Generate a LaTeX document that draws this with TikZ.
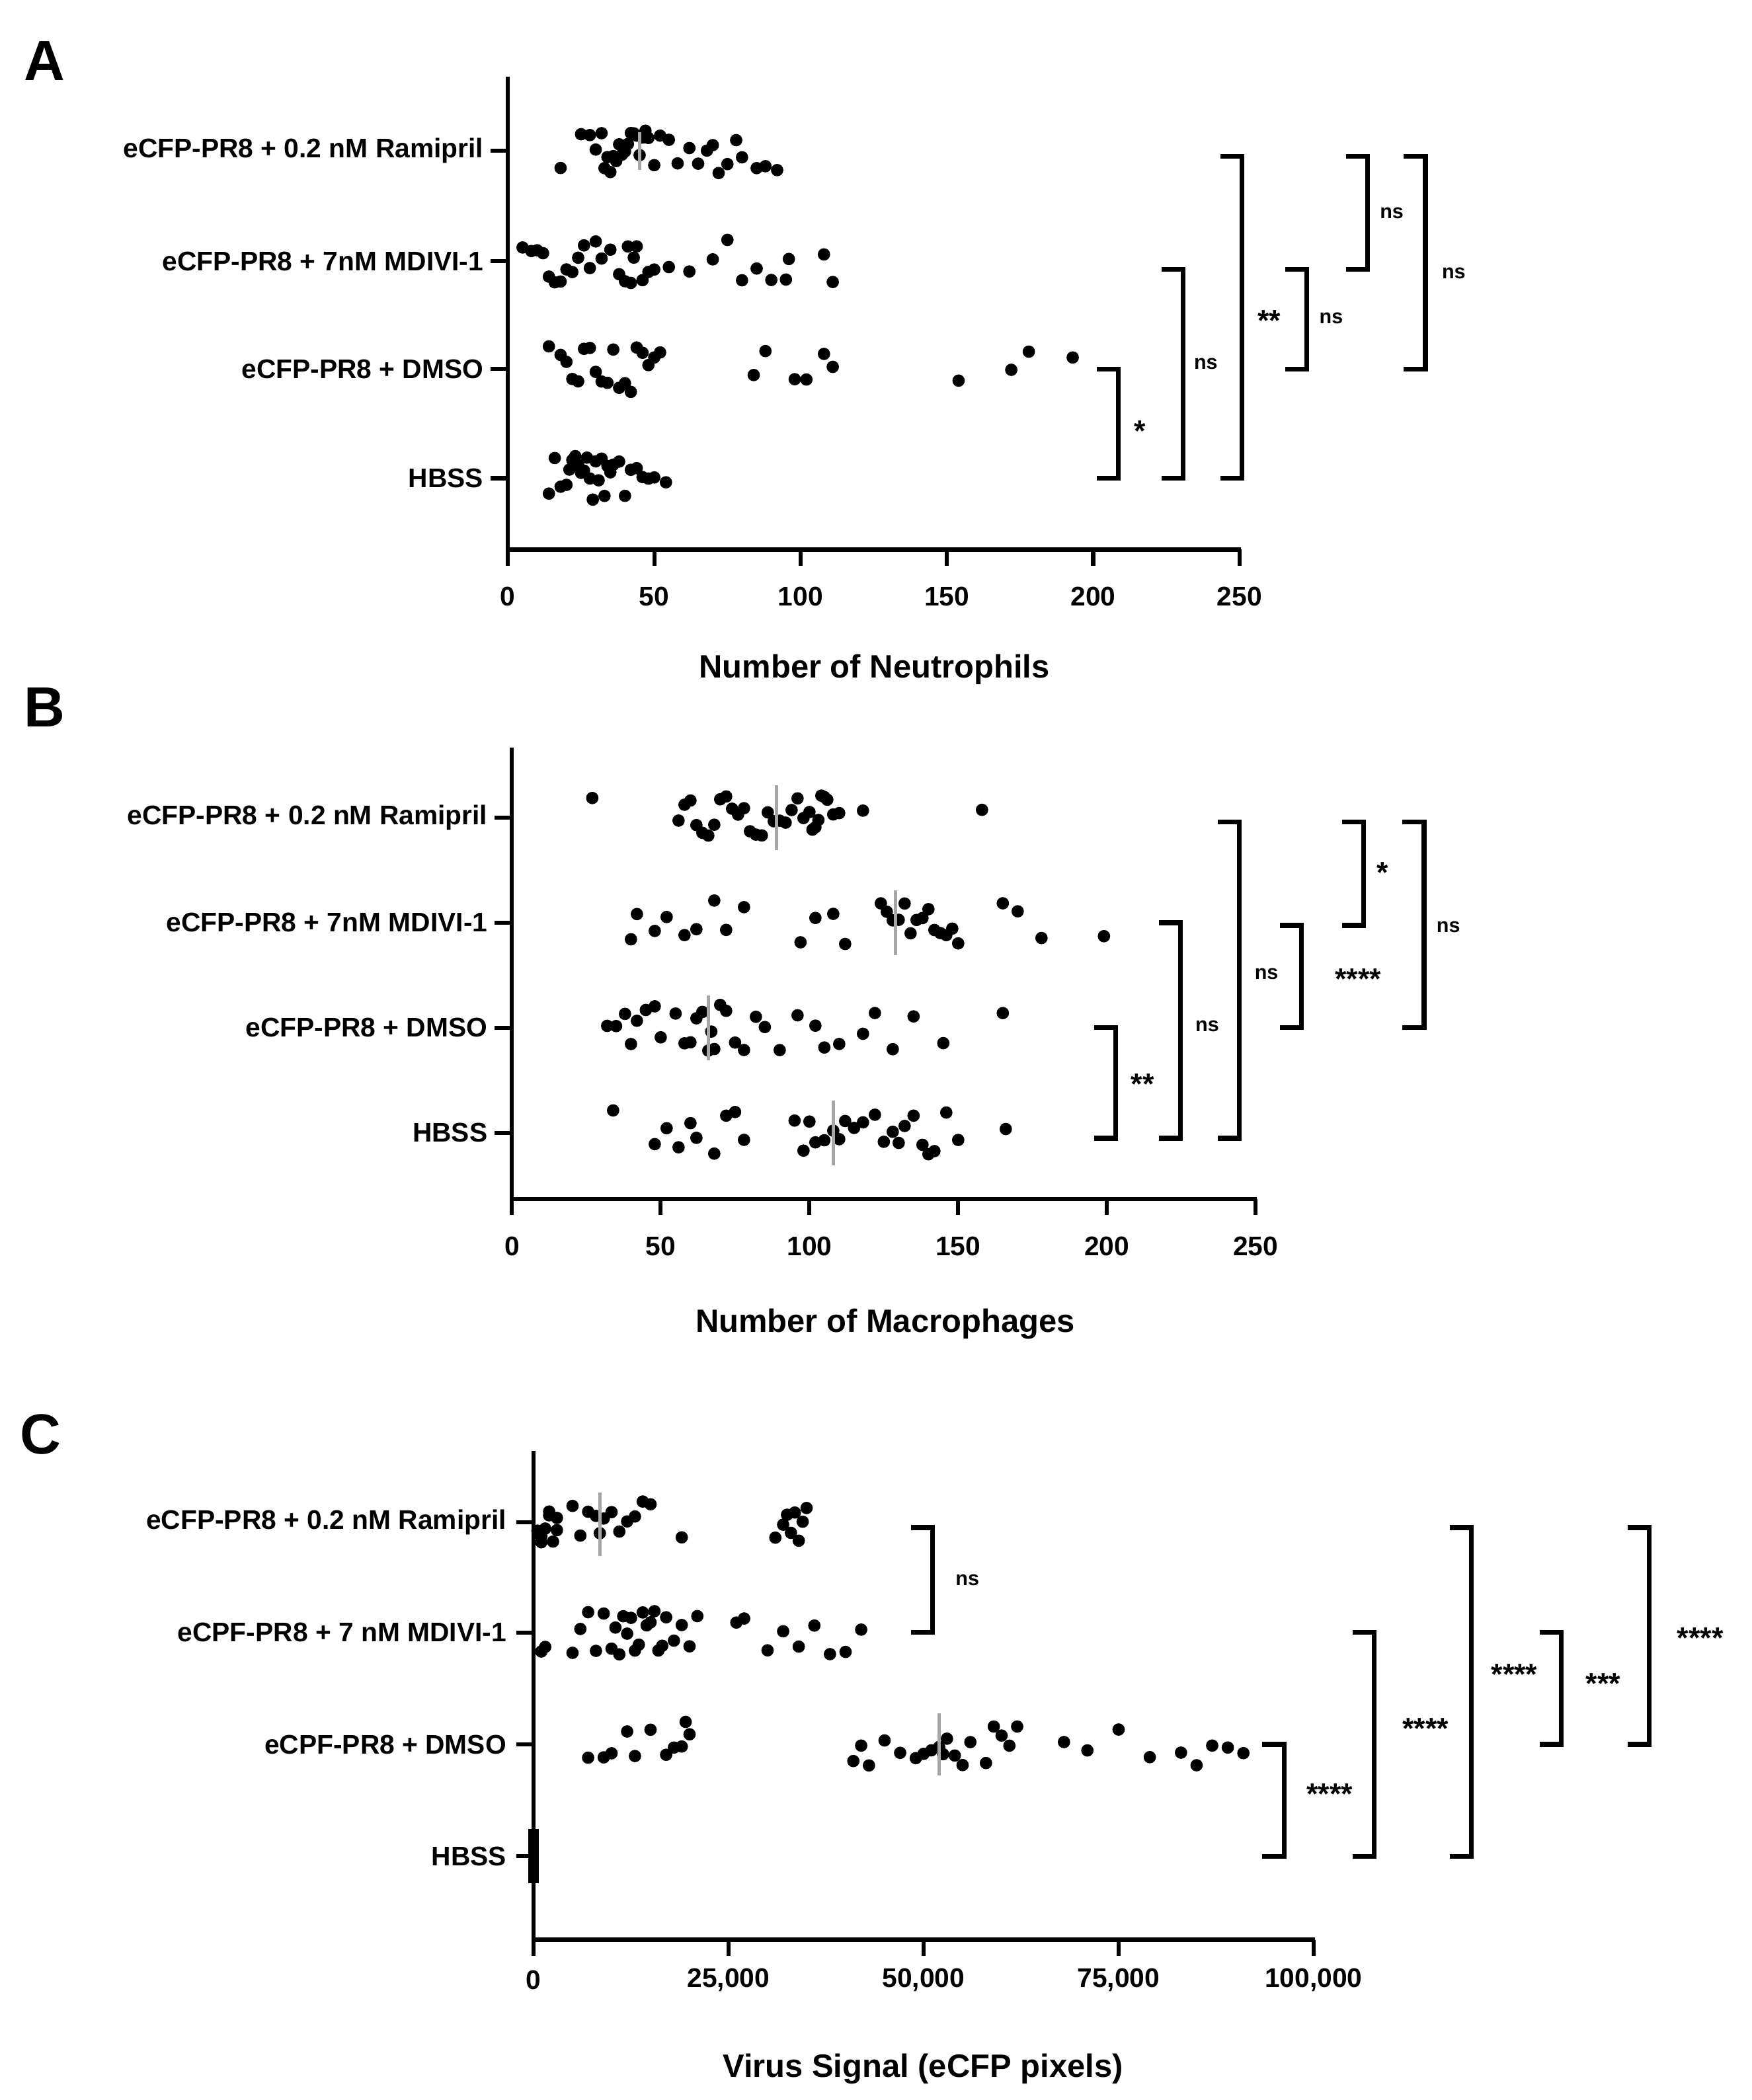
\documentclass[tikz,border=0pt]{standalone}
\usepackage{fontspec}
\setmainfont{Liberation Sans}
\begin{document}
\begin{tikzpicture}[x=1pt,y=-1pt,
  lab/.style={font=\fontsize{20}{24}\selectfont\bfseries,anchor=east,inner sep=0},
  tl/.style={font=\fontsize{20}{24}\selectfont\bfseries,inner sep=0},
  ttl/.style={font=\fontsize{24}{28}\selectfont\bfseries,inner sep=0},
  pl/.style={font=\fontsize{42}{46}\selectfont\bfseries,inner sep=0},
  ax/.style={line width=3pt},
  br/.style={line width=3.5pt},
  nsl/.style={font=\fontsize{15}{18}\selectfont\bfseries,inner sep=0},
  stl/.style={font=\fontsize{22}{24}\selectfont\bfseries,inner sep=0},
  med/.style={gray!70,line width=2.5pt}]
\useasboundingbox (0,0) rectangle (1300,1559);
\pgfmathsetseed{7}
\newcommand{\swarmdots}[4]{% x0, scale, y, list
  \foreach \v in {#4}{\pgfmathsetmacro\jy{#3+(rnd-0.5)*34}
    \fill (#1+#2*\v,\jy) circle (4.6);}}
% ================= A
\node[pl] (pA) at (33,45) {A};
\draw[ax] (377,57) -- (377,408) -- (921,408);
\foreach \t in {0,50,...,250}{\draw[ax] (377+2.172*\t,408) -- (377+2.172*\t,420);
  \node[tl] (ta\t) at (377+2.172*\t,443) {\t};}
\foreach \y/\n/\s in {112/a1/eCFP-PR8 + 0.2 nM Ramipril,194/a2/eCFP-PR8 + 7nM MDIVI-1,274/a3/eCFP-PR8 + DMSO,355/a4/HBSS}{
  \draw[ax] (364,\y) -- (377,\y); \node[lab] (\n) at (359,\y) {\s};}
\node[ttl] (tA) at (649,497) {Number of Neutrophils};
\swarmdots{377}{2.172}{112}{18,25,28,30,32,33,34,35,36,37,38,39,40,40,41,42,43,44,45,46,47,48,50,52,55,58,62,65,68,70,72,75,78,80,85,88,92}
\swarmdots{377}{2.172}{194}{5,8,10,12,14,16,18,20,22,24,26,28,30,32,35,38,40,41,42,43,44,46,48,50,55,62,70,75,80,85,90,95,96,108,111}
\swarmdots{377}{2.172}{274}{14,18,20,22,24,26,28,30,32,34,36,38,40,42,44,46,48,50,52,84,88,98,102,108,111,154,172,178,193}
\swarmdots{377}{2.172}{355}{14,16,18,20,21,22,23,24,25,26,27,28,29,30,31,32,33,34,35,36,38,40,42,44,46,48,50,54}
\draw[med] (377+2.172*45,98) -- (377+2.172*45,126);
\foreach \x/\a/\b/\l/\lx/\ly/\st in {830/274/355/*/846/320/stl,878/200/355/ns/895/270/nsl,922/116/355/**/942/238/stl,970/200/274/ns/988/236/nsl,1015/116/200/ns/1033/158/nsl,1058/116/274/ns/1079/203/nsl}{
  \draw[br] (\x-16,\a) -- (\x,\a) -- (\x,\b) -- (\x-16,\b);
  \node[\st] at (\lx,\ly) {\l};}
% ================= B
\node[pl] (pB) at (33,525) {B};
\draw[ax] (380,555) -- (380,890) -- (933,890);
\foreach \t in {0,50,...,250}{\draw[ax] (380+2.208*\t,890) -- (380+2.208*\t,902);
  \node[tl] (tb\t) at (380+2.208*\t,925) {\t};}
\foreach \y/\n/\s in {607/b1/eCFP-PR8 + 0.2 nM Ramipril,685/b2/eCFP-PR8 + 7nM MDIVI-1,763/b3/eCFP-PR8 + DMSO,841/b4/HBSS}{
  \draw[ax] (367,\y) -- (380,\y); \node[lab] (\n) at (362,\y) {\s};}
\node[ttl] (tB) at (657,983) {Number of Macrophages};
\swarmdots{380}{2.208}{607}{27,56,58,60,62,64,66,68,70,72,74,76,78,80,82,84,86,88,90,92,94,96,98,100,101,102,103,104,105,106,108,110,118,158}
\swarmdots{380}{2.208}{685}{40,42,48,52,58,62,68,72,78,97,102,108,112,124,126,128,130,132,134,136,138,140,142,144,146,148,150,165,170,178,199}
\swarmdots{380}{2.208}{763}{32,35,38,40,42,45,48,50,55,58,60,62,64,66,67,68,70,72,75,78,82,85,90,96,102,105,110,118,122,128,135,145,165}
\swarmdots{380}{2.208}{841}{34,48,52,56,60,62,68,72,75,78,95,98,100,102,105,108,110,112,115,118,122,125,128,130,132,135,138,140,142,146,150,166}
\foreach \m/\y in {89/607,129/685,66/763,108/841}{\draw[med] (380+2.208*\m,\y-24) -- (380+2.208*\m,\y+24);}
\foreach \x/\a/\b/\l/\lx/\ly/\st in {828/763/845/**/848/805/stl,876/685/845/ns/896/762/nsl,920/610/845/ns/940/723/nsl,1012/610/687/*/1026/648/stl,966/687/763/****/1008/727/stl,1057/610/763/ns/1075/688/nsl}{
  \draw[br] (\x-16,\a) -- (\x,\a) -- (\x,\b) -- (\x-16,\b);
  \node[\st] at (\lx,\ly) {\l};}
% ================= C
\node[pl] (pC) at (30,1065) {C};
\draw[ax] (396,1077) -- (396,1440) -- (976,1440);
\foreach \t/\s in {0/0,25/{25,000},50/{50,000},75/{75,000},100/{100,000}}{\draw[ax] (396+5.79*\t,1440) -- (396+5.79*\t,1452);
  \node[tl] (tc\t) at (396+5.79*\t,1470) {\s};}
\foreach \y/\n/\s in {1130/c1/eCFP-PR8 + 0.2 nM Ramipril,1212/c2/eCPF-PR8 + 7 nM MDIVI-1,1295/c3/eCPF-PR8 + DMSO,1378/c4/HBSS}{
  \draw[ax] (383,\y) -- (396,\y); \node[lab] (\n) at (376,\y) {\s};}
\node[ttl] (tC) at (685,1536) {Virus Signal (eCFP pixels)};
\swarmdots{396}{5.79}{1130}{0.5,1,1,1.5,2,2,2.5,3,3,5,6,7,8,8.5,9,10,11,12,13,14,15,19,31,32,32.5,33,33.5,34,34.5,35}
\swarmdots{396}{5.79}{1212}{1,1.5,5,6,7,8,9,10,10.5,11,11.5,12,12.5,13,13.5,14,14.5,15,15.5,16,16.5,17,18,19,20,21,26,27,30,32,34,36,38,40,42}
\swarmdots{396}{5.79}{1295}{7,9,10,12,13,15,17,18,19,19.5,20,41,42,43,45,47,49,50,51,52,52.5,53,54,55,56,58,59,60,61,62,68,71,75,79,83,85,87,89,91}
\fill (392,1358) rectangle (400,1398);
\draw[med] (396+5.79*8.5,1108) -- (396+5.79*8.5,1155);
\draw[med] (396+5.79*52,1272) -- (396+5.79*52,1318);
\foreach \x/\a/\b/\l/\lx/\ly/\st in {692/1134/1212/ns/718/1173/nsl,953/1295/1378/****/987/1332/stl,1020/1212/1378/****/1058/1283/stl,1092/1134/1378/****/1124/1243/stl,1159/1212/1295/***/1190/1250/stl,1224/1134/1295/****/1262/1216/stl}{
  \draw[br] (\x-16,\a) -- (\x,\a) -- (\x,\b) -- (\x-16,\b);
  \node[\st] at (\lx,\ly) {\l};}
\end{tikzpicture}
\end{document}
